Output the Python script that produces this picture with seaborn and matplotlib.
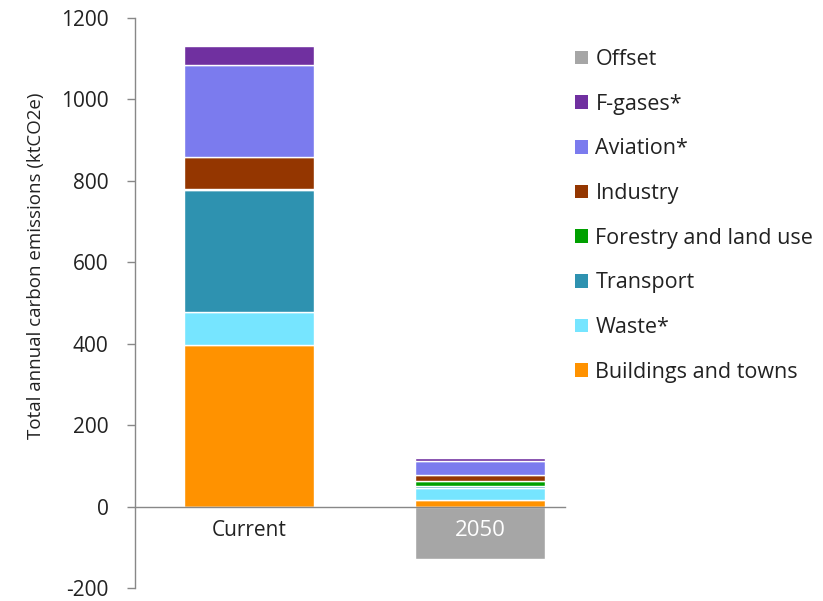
import matplotlib
matplotlib.use("Agg")
import matplotlib.pyplot as plt
import matplotlib.patches as mpatches
import seaborn as sns
import numpy as np
import pandas as pd

categories = ["Current", "2050"]
buildings = [398, 16]
waste = [79, 30]
transport = [300, 4]
forestry = [4, 14]
industry = [78, 14]
aviation = [225, 33]
fgases = [46, 8]
offset = [0, -128]

series_names = ["Buildings and towns", "Waste*", "Transport", "Forestry and land use",
                "Industry", "Aviation*", "F-gases*"]
series_values = [buildings, waste, transport, forestry, industry, aviation, fgases]
colors = ["#FF9200", "#76E5FF", "#2E92B0", "#00A000", "#943600", "#7B7BEE", "#7030A0"]
offset_color = "#A6A6A6"

sns.set_theme(style="white")
plt.rcParams['font.family'] = ['Open Sans', 'DejaVu Sans']
plt.rcParams['axes.unicode_minus'] = False

fig = plt.figure(figsize=(8.23, 6.01), dpi=100)
ax = fig.add_axes([135/823, 13/601, 430/823, 570/601])
ax.set_axisbelow(False)

bottom = np.zeros(len(categories))
for name, vals, col in zip(series_names, series_values, colors):
    df = pd.DataFrame({"cat": categories, "val": vals})
    sns.barplot(data=df, x="cat", y="val", order=categories, color=col, width=0.56,
                bottom=bottom.copy(), edgecolor="white", linewidth=1.0, ax=ax,
                saturation=1, errorbar=None)
    bottom += np.array(vals, dtype=float)

df_off = pd.DataFrame({"cat": categories, "val": offset})
sns.barplot(data=df_off, x="cat", y="val", order=categories, color=offset_color, width=0.56,
            edgecolor="white", linewidth=1.0, ax=ax, saturation=1, errorbar=None)

ax.set_ylim(-200, 1200)
ax.set_xlim(-0.494, 1.368)
ax.set_yticks(np.arange(-200, 1201, 200))
ax.set_xlabel("")
ax.set_ylabel("Total annual carbon emissions (ktCO2e)", fontsize=13.5, color="#222222")
ax.yaxis.set_label_coords(-0.209, 0.565)

for s in ["top", "right"]:
    ax.spines[s].set_visible(False)
ax.spines["left"].set_color("#888888")
ax.spines["bottom"].set_color("#888888")
ax.spines["bottom"].set_position(("data", 0))
ax.spines["left"].set_linewidth(1.0)
ax.spines["bottom"].set_linewidth(1.0)

ax.tick_params(axis="y", which="major", left=True, length=6, width=1, color="#888888",
               labelsize=15, labelcolor="#222222", pad=13)
ax.tick_params(axis="x", which="major", bottom=False, length=0, labelsize=15,
               labelcolor="#222222", pad=10)
xt = ax.get_xticklabels()
xt[1].set_color("white")
xt[1].set_fontsize(16)

handles = [mpatches.Patch(facecolor=offset_color, edgecolor="none", label="Offset")]
for name, col in reversed(list(zip(series_names, colors))):
    handles.append(mpatches.Patch(facecolor=col, edgecolor="none", label=name))
fig.legend(handles=handles, loc="upper left", bbox_to_anchor=(575/823, 1 - 49/601),
           frameon=False, fontsize=15.5, handlelength=0.6, handleheight=0.6,
           handletextpad=0.35, labelspacing=1.10, borderpad=0, borderaxespad=0,
           labelcolor="#222222")

fig.savefig("out.png", dpi=100)
